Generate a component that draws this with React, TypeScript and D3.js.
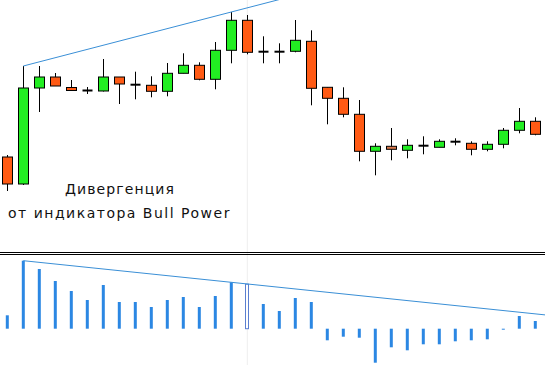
import React from "react";
import * as d3 from "d3";

const W = 545;
const H = 365;

// Candle data in price units (open, close, high, low)
const opens = [43, 16, 112, 123, 112.5, 109.5, 109, 123, 115.3, 114.7, 108.7, 126.7, 134.7, 120.7, 149.7, 179.7, 148.3, 148.3, 148.7, 158.7, 112.7, 101.7, 85.7, 48.7, 53.7, 49.7, 54.3, 52.7, 58.3, 56.7, 50.7, 55.7, 69.7, 78.7];
const closes = [16, 112, 123, 114, 109.5, 109.5, 123, 116, 115.3, 108.7, 126.7, 134.7, 120.7, 149.7, 179.7, 147.7, 148.3, 148.3, 159.7, 111.7, 101.7, 85.7, 48.7, 53.7, 50.7, 54.7, 54.3, 58.7, 58.3, 50.7, 55.7, 69.7, 78.7, 65.7];
const highs = [45, 134, 134, 127, 120, 113, 141, 123, 128.3, 123.7, 137, 146.7, 137.7, 158, 188, 185, 163.7, 156.7, 180, 169.7, 112.7, 112.7, 100, 56.7, 72, 60.7, 63.7, 60.7, 61.7, 58.7, 58.7, 72, 92, 82.7];
const lows = [9, 15, 88, 114, 109, 106, 108.5, 96, 100.7, 102.7, 103.7, 126.7, 119.7, 110.7, 136.7, 145.7, 136.7, 136.7, 147.7, 94.7, 75.7, 82.7, 38.7, 24.7, 39.7, 41.7, 45.7, 52.7, 54.7, 44.7, 48.7, 51.7, 66.7, 64.7];

// Bull Power histogram values
const bullPower = [13.4, 68, 59.7, 47.7, 37.7, 28.7, 43.7, 26.7, 26.7, 21.7, 28.7, 31.7, 21.7, 32.7, 46.4, 44.5, 24.7, 17.7, 30.7, 26.7, -11.6, -8, -9, -34, -18.6, -21.6, -15.6, -15.6, -12.6, -11.6, -10.6, -1, 12.7, 7.7];

// Divergence line anchors (indices)
const priceLineFrom = 1;
const priceLineTo = 14;
const indLineFrom = 1;
const indLineTo = 14;
const markedIndex = 15;
const mutedCandle = 24;

const textLines = ["Дивергенция", "от индикатора Bull Power"];

const GREEN = "#22ee22";
const ORANGE = "#ff5a14";
const MUTED = "#d9774a";
const BLUE = "#2b87e3";
const LINE_BLUE = "#3a8fd6";

export default function App() {
  const n = opens.length;
  const x = d3.scaleLinear().domain([0, n - 1]).range([7.3, 7.3 + 16 * (n - 1)]);
  const yP = d3.scaleLinear().domain([0, 200]).range([200, 0]);
  const yI = d3.scaleLinear().domain([-40, 70]).range([368.7, 258.7]);

  const bw = 10;

  const p1 = [x(priceLineFrom), yP(highs[priceLineFrom])];
  const p2 = [x(priceLineTo), yP(highs[priceLineTo])];
  const pSlope = (p2[1] - p1[1]) / (p2[0] - p1[0]);
  const pEndX = 300;
  const pLine = d3.line()([[p1[0], p1[1]], [pEndX, p1[1] + pSlope * (pEndX - p1[0])]]);

  const i1 = [x(indLineFrom), yI(bullPower[indLineFrom])];
  const i2 = [x(indLineTo), yI(bullPower[indLineTo])];
  const iSlope = (i2[1] - i1[1]) / (i2[0] - i1[0]);
  const iEndX = W;
  const iLine = d3.line()([[i1[0], i1[1]], [iEndX, i1[1] + iSlope * (iEndX - i1[0])]]);

  return (
    <svg width={W} height={H} style={{ position: "absolute", left: 0, top: 0, background: "#fff" }}>
      <defs>
        <clipPath id="top">
          <rect x={0} y={0} width={W} height={252} />
        </clipPath>
      </defs>
      <line x1={x(markedIndex)} x2={x(markedIndex)} y1={0} y2={H} stroke="#eeeeee" strokeWidth={1} />
      <g clipPath="url(#top)">
        {opens.map((o, i) => {
          const c = closes[i];
          const cx = Math.round(x(i)) + 0.5;
          const doji = o === c;
          const up = c > o;
          const fill = i === mutedCandle ? MUTED : up ? GREEN : ORANGE;
          const top = yP(Math.max(o, c));
          const bot = yP(Math.min(o, c));
          return (
            <g key={i}>
              <line x1={cx} x2={cx} y1={yP(highs[i])} y2={yP(lows[i])} stroke="#000" strokeWidth={1} />
              {doji ? (
                <line x1={cx - bw / 2} x2={cx + bw / 2} y1={top} y2={top} stroke="#000" strokeWidth={2} />
              ) : (
                <rect x={cx - bw / 2} y={top} width={bw} height={Math.max(1, bot - top)} fill={fill} stroke="#000" strokeWidth={1} />
              )}
            </g>
          );
        })}
        <path d={pLine || ""} stroke={LINE_BLUE} strokeWidth={1} fill="none" />
      </g>
      {textLines.map((t, k) => (
        <text
          key={k}
          x={k === 0 ? 65 : 8}
          y={k === 0 ? 194 : 218}
          fontFamily="DejaVu Sans"
          fontSize={14}
          letterSpacing={k === 0 ? 1.1 : 1.5}
          fill="#111"
        >
          {t}
        </text>
      ))}
      <line x1={0} x2={W} y1={252.5} y2={252.5} stroke="#000" strokeWidth={1} />
      <line x1={0} x2={W} y1={254.5} y2={254.5} stroke="#000" strokeWidth={1} />
      {bullPower.map((v, i) => {
        const cx = x(i);
        const y0 = yI(0);
        const yv = yI(v);
        const top = Math.min(y0, yv);
        const h = Math.abs(y0 - yv);
        if (i === markedIndex) {
          return (
            <rect key={i} x={Math.round(cx) - 1.5} y={top} width={3} height={h} fill="#fff" stroke="#5b7fd0" strokeWidth={1} />
          );
        }
        return <rect key={i} x={cx - 1.5} y={top} width={3} height={Math.max(1, h)} fill={BLUE} />;
      })}
      <path d={iLine || ""} stroke={LINE_BLUE} strokeWidth={1} fill="none" />
    </svg>
  );
}
